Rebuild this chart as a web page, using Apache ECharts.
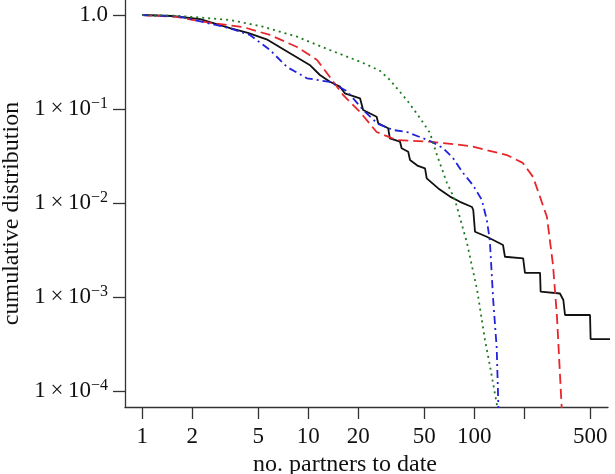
<!DOCTYPE html>
<html>
<head>
<meta charset="utf-8">
<script src="https://cdn.jsdelivr.net/npm/echarts@6/dist/echarts.min.js"></script>
<style>
  html, body { margin: 0; padding: 0; background: #fff; }
  #chart { width: 615px; height: 474px; }
</style>
</head>
<body>
<div id="chart"></div>
<script>
// tick positions on the two log axes
const xTicks = [1, 2, 5, 10, 20, 50, 100, 200, 500]
const xLabels = [1, 2, 5, 10, 20, 50, 100, 500]
const yTicks = [1e-4, 1e-3, 1e-2, 1e-1, 1]

// [partners, cumulative share]
const observed = [
  [1, 1], [1.51, 0.976], [2.23, 0.906], [3.38, 0.727], [4.33, 0.644], [5.61, 0.551],
  [7.76, 0.391], [10.2, 0.294], [11.75, 0.23], [13.5, 0.195], [15.5, 0.173], [16.6, 0.147],
  [20.5, 0.13], [21.4, 0.0976], [25.8, 0.0828], [26.4, 0.0705], [30.3, 0.0623], [31.0, 0.0488],
  [35.7, 0.0449], [36.5, 0.0382], [40.0, 0.0351], [41.0, 0.0287], [45.8, 0.0248], [50.5, 0.0234],
  [51.7, 0.0183], [60.7, 0.0143], [71.4, 0.0117], [82.0, 0.0103], [96.9, 0.00906], [98.6, 0.00843],
  [101, 0.00495], [119, 0.00438], [149, 0.00357], [153, 0.00268], [197, 0.00258], [202, 0.00181],
  [249, 0.00181], [251, 0.00114], [328, 0.00109], [344, 0.000929], [352, 0.000644], [498, 0.000644],
  [502, 0.000357], [704, 0.000357]
]
const redModel = [
  [1, 1], [1.57, 0.959], [2.67, 0.816], [4.04, 0.745], [5.88, 0.613], [8.55, 0.457],
  [11.3, 0.332], [13.5, 0.219], [16.2, 0.141], [20.5, 0.0929], [25.8, 0.0569], [34.1, 0.0468],
  [54.1, 0.0449], [94.2, 0.0404], [157, 0.0324], [196, 0.0267], [226, 0.0189], [249, 0.0116],
  [274, 0.0071], [298, 0.00219], [315, 0.000612], [336, 0.0000676], [342, 0.00003]
]
const blueModel = [
  [1, 1], [1.69, 0.959], [3.38, 0.722], [4.45, 0.613], [5.88, 0.424], [7.44, 0.28],
  [9.82, 0.212], [13.5, 0.194], [17.1, 0.155], [21.4, 0.0976], [26.3, 0.0692], [32.4, 0.0598],
  [39.3, 0.0569], [54.1, 0.0457], [64.8, 0.0385], [74.4, 0.0301], [85.5, 0.0209], [98.2, 0.0155],
  [111, 0.0108], [119, 0.00659], [124, 0.00404], [130, 0.000929], [136.5, 0.000286],
  [139.6, 0.000071], [141, 0.00003]
]
const greenModel = [
  [1, 1], [1.61, 0.983], [3.38, 0.885], [5.33, 0.751], [8.55, 0.588], [13.5, 0.424],
  [21.4, 0.309], [27.0, 0.255], [31.0, 0.204], [39.2, 0.125], [47.1, 0.0802], [54.1, 0.0556],
  [59.6, 0.0324], [68.5, 0.0163], [76.5, 0.0108], [90.4, 0.00375], [104, 0.00119],
  [116, 0.000349], [124, 0.000189], [137, 0.000071], [138.5, 0.00003]
]

const font = 'Liberation Serif'
const chart = echarts.init(document.getElementById('chart'), null, { renderer: 'canvas' })

function lineSeries(name, data, color, type, clip) {
  return {
    name,
    type: 'line',
    data,
    showSymbol: false,
    symbol: 'none',
    clip,
    lineStyle: { color, width: 1.8, type, cap: 'butt' },
    emphasis: { disabled: true },
  }
}

function yLabel(v) {
  const e = Math.round(Math.log10(v))
  if (e === 0) return '1.0'
  return '{m|1\u2009\u00d7\u200910}{s|\u2212' + (-e) + '}'
}

chart.setOption({
  animation: false,
  backgroundColor: '#fff',
  grid: { left: 125, right: 7, top: 0, bottom: 67, containLabel: false, outerBoundsMode: 'none' },
  xAxis: {
    type: 'log',
    logBase: 10,
    min: 0.787,
    max: 639,
    name: 'no. partners to date',
    nameLocation: 'middle',
    nameGap: 40,
    nameTextStyle: { fontFamily: font, fontSize: 24, color: '#111', lineHeight: 24, padding: [0, 43, 0, 0] },
    axisLine: { lineStyle: { color: '#333', width: 1.3 } },
    axisTick: { length: 12, customValues: xTicks, lineStyle: { color: '#333', width: 1.3 } },
    axisLabel: {
      customValues: xLabels,
      margin: 18,
      fontFamily: font,
      fontSize: 23,
      lineHeight: 23,
      color: '#111',
      formatter: (v) => String(Math.round(v)),
    },
    splitLine: { show: false },
  },
  yAxis: {
    type: 'log',
    logBase: 10,
    min: 6.76e-5,
    max: 1.444,
    name: 'cumulative distribution',
    nameLocation: 'middle',
    nameGap: 98,
    nameTextStyle: { fontFamily: font, fontSize: 24, color: '#111', lineHeight: 24, padding: [0, 20, 0, 0] },
    axisLine: { lineStyle: { color: '#333', width: 1.3 } },
    axisTick: { length: 12, customValues: yTicks, lineStyle: { color: '#333', width: 1.3 } },
    axisLabel: {
      customValues: yTicks,
      margin: 17,
      fontFamily: font,
      fontSize: 23,
      color: '#111',
      formatter: yLabel,
      rich: {
        m: { fontFamily: font, fontSize: 23, lineHeight: 27, color: '#111' },
        s: { fontFamily: font, fontSize: 16, lineHeight: 15, color: '#111', verticalAlign: 'top' },
      },
    },
    splitLine: { show: false },
  },
  series: [
    lineSeries('observed', observed, '#111', 'solid', false),
    lineSeries('red model', redModel, '#e8262a', [10, 5], true),
    lineSeries('blue model', blueModel, '#2222dd', [8, 4, 2, 4], true),
    lineSeries('green model', greenModel, '#1f7a1f', [2, 4], true),
  ],
})
</script>
</body>
</html>
